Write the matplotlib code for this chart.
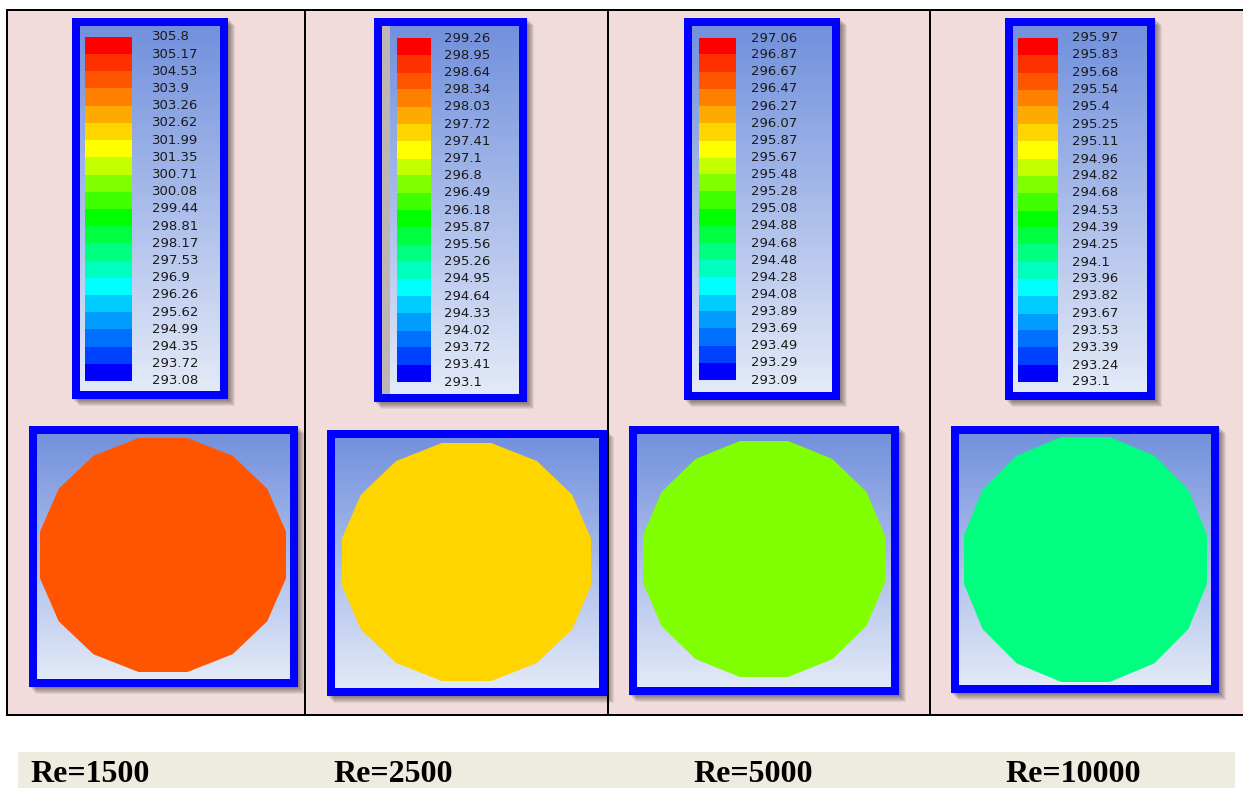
import numpy as np
import matplotlib
matplotlib.use("Agg")
import matplotlib.pyplot as plt
from matplotlib.patches import Rectangle, RegularPolygon
from matplotlib.colors import LinearSegmentedColormap
from matplotlib.transforms import Affine2D

# ---- data -------------------------------------------------------------
re_labels = ["Re=1500", "Re=2500", "Re=5000", "Re=10000"]

levels_1500 = [305.8, 305.17, 304.53, 303.9, 303.26, 302.62, 301.99, 301.35, 300.71,
               300.08, 299.44, 298.81, 298.17, 297.53, 296.9, 296.26, 295.62, 294.99,
               294.35, 293.72, 293.08]
levels_2500 = [299.26, 298.95, 298.64, 298.34, 298.03, 297.72, 297.41, 297.1, 296.8,
               296.49, 296.18, 295.87, 295.56, 295.26, 294.95, 294.64, 294.33, 294.02,
               293.72, 293.41, 293.1]
levels_5000 = [297.06, 296.87, 296.67, 296.47, 296.27, 296.07, 295.87, 295.67, 295.48,
               295.28, 295.08, 294.88, 294.68, 294.48, 294.28, 294.08, 293.89, 293.69,
               293.49, 293.29, 293.09]
levels_10000 = [295.97, 295.83, 295.68, 295.54, 295.4, 295.25, 295.11, 294.96, 294.82,
                294.68, 294.53, 294.39, 294.25, 294.1, 293.96, 293.82, 293.67, 293.53,
                293.39, 293.24, 293.1]
all_levels = [levels_1500, levels_2500, levels_5000, levels_10000]

# mean section temperature (K)
section_temp = [304.2, 297.57, 295.38, 294.18]

# Fluent rainbow bands, hot -> cold
band_colors = ["#ff0000", "#ff3000", "#ff5500", "#ff8000", "#ffaa00", "#ffd500",
               "#ffff00", "#c4ff00", "#80ff00", "#40ff00", "#00ff00", "#00ff40",
               "#00ff80", "#00ffbf", "#00ffff", "#00ccff", "#009dff", "#0070ff",
               "#0040ff", "#0000ff"]

# ---- layout (pixels) --------------------------------------------------
W, H = 1243, 788
cbar_frames = [(72, 18, 228, 399), (374, 18, 527, 402), (684, 18, 840, 400), (1005, 18, 1155, 400)]
cbar_swatch = [(85, 37, 132, 381), (397, 38, 431, 382), (699, 38, 736, 380), (1018, 38, 1058, 382)]
label_gap = [20, 13, 15, 14]
sec_frames = [(29, 426, 298, 687), (327, 430, 607, 696), (629, 426, 899, 695), (951, 426, 1219, 693)]
sec_shape = [(163, 555, 123, 117), (466.5, 562, 124.5, 119), (764, 559, 121, 118), (1085.5, 559.5, 121.5, 122.5)]
col_lines = [305, 608, 930]
label_x = [30, 333, 693, 1005]

fig = plt.figure(figsize=(W / 100, H / 100), dpi=100)
fig.patch.set_facecolor("white")
bg = fig.add_axes([0, 0, 1, 1])
bg.set_xlim(0, W)
bg.set_ylim(H, 0)
bg.set_autoscale_on(False)
bg.axis("off")

PX = 0.72  # points per pixel

def frac(x0, y0, x1, y1):
    return [x0 / W, 1 - y1 / H, (x1 - x0) / W, (y1 - y0) / H]

grad = np.linspace(0, 1, 256)[:, None]
bg_cmap = LinearSegmentedColormap.from_list("bgc", ["#6f8edc", "#e6ecf8"])

def framed_box(x0, y0, x1, y1):
    # soft drop shadow
    for k in range(1, 8):
        bg.add_patch(Rectangle((x0 + k, y0 + k), x1 - x0, y1 - y0, color="black",
                               alpha=0.07, lw=0, zorder=1))
    bg.imshow(grad, extent=(x0, x1, y1, y0), cmap=bg_cmap, aspect="auto", zorder=2)
    bg.add_patch(Rectangle((x0 + 4, y0 + 4), x1 - x0 - 8, y1 - y0 - 8, fill=False,
                           ec="#0000ff", lw=8 * PX, zorder=5))

# table background
bg.add_patch(Rectangle((7, 10), W - 7, 705, color="#f2dcdb", lw=0, zorder=0))
bg.plot([7, W], [10, 10], color="black", lw=2 * PX, zorder=6)
bg.plot([7, W], [715, 715], color="black", lw=2 * PX, zorder=6)
bg.plot([7, 7], [10, 715], color="black", lw=2 * PX, zorder=6)
for x in col_lines:
    bg.plot([x, x], [10, 715], color="black", lw=2 * PX, zorder=6)

for i in range(4):
    levels = all_levels[i]
    framed_box(*cbar_frames[i])
    if i == 1:
        bg.add_patch(Rectangle((382, 26), 8, 368, color="#bfb5b2", lw=0, zorder=3))
    sx0, sy0, sx1, sy1 = cbar_swatch[i]
    cax = fig.add_axes(frac(sx0, sy0, sx1, sy1))
    cax.set_xlim(0, 1)
    cax.set_ylim(levels[-1], levels[0])
    for b in range(20):
        cax.axhspan(levels[b + 1], levels[b], color=band_colors[b], lw=0)
    cax.axis("off")
    for lv in levels:
        cax.annotate(str(lv), xy=(1, lv), xycoords=("axes fraction", "data"),
                     xytext=(label_gap[i], 0), textcoords="offset pixels",
                     va="center", ha="left", fontsize=9.5, color="#1a1a1a",
                     family="DejaVu Sans", annotation_clip=False)

    # cross-section
    framed_box(*sec_frames[i])
    idx = int(np.searchsorted(-np.array(levels), -section_temp[i])) - 1
    idx = min(max(idx, 0), 19)
    cx, cy, ax_, ay_ = sec_shape[i]
    poly = RegularPolygon((0, 0), numVertices=16, radius=1 / np.cos(np.pi / 16),
                          orientation=np.pi / 16, color=band_colors[idx], lw=0, zorder=4)
    poly.set_transform(Affine2D().scale(ax_, ay_).translate(cx, cy) + bg.transData)
    bg.add_patch(poly)

# bottom label band
bg.add_patch(Rectangle((18, 752), 1217, 36, color="#eeece1", lw=0, zorder=0))
for x, lab in zip(label_x, re_labels):
    bg.text(x, 782, lab, family="Liberation Serif", fontweight="bold", fontsize=23,
            va="baseline", ha="left", color="black", zorder=7)

bg.set_xlim(0, W)
bg.set_ylim(H, 0)
fig.savefig("out.png", dpi=100)
